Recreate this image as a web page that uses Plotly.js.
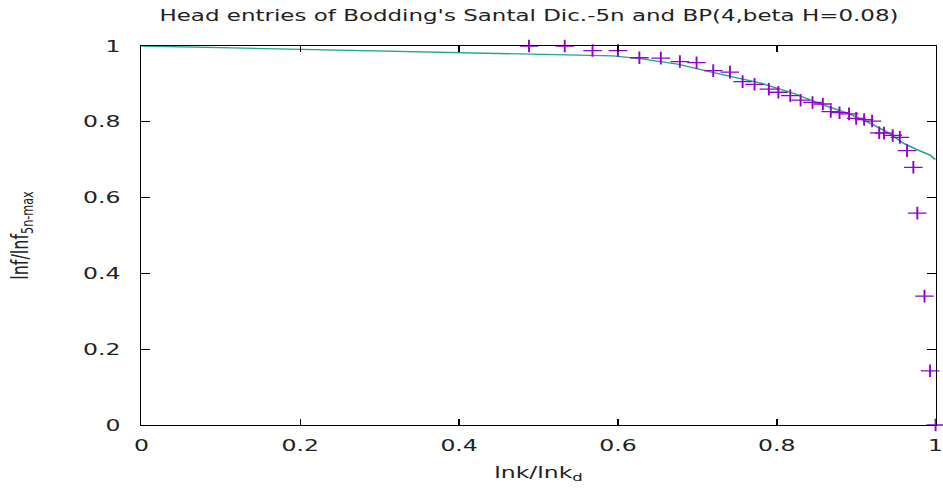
<!DOCTYPE html>
<html>
<head>
<meta charset="utf-8">
<script src="https://cdn.plot.ly/plotly-3.0.1.min.js"></script>
<style>
  html, body { margin: 0; padding: 0; background: #fff; overflow: hidden; }
  /* the reference is a 640 px wide gnuplot picture stretched to 943 px */
  #chart1 { width: 640px; height: 491px; transform: scaleX(1.4734); transform-origin: 0 0; }
</style>
</head>
<body>
<div id="chart1"></div>
<script>
// observed head entries (points)
var dataX = [0.488, 0.533, 0.568, 0.600, 0.627, 0.654, 0.678, 0.699, 0.720, 0.741,
             0.757, 0.772, 0.790, 0.802, 0.817, 0.830, 0.845, 0.858, 0.868, 0.879,
             0.891, 0.900, 0.910, 0.920, 0.929, 0.935, 0.946, 0.955, 0.964, 0.972,
             0.977, 0.986, 0.993, 1.000];
var dataY = [1.000, 1.000, 0.988, 0.988, 0.969, 0.968, 0.959, 0.956, 0.935, 0.931,
             0.906, 0.899, 0.886, 0.878, 0.869, 0.857, 0.851, 0.847, 0.827, 0.824,
             0.821, 0.809, 0.806, 0.802, 0.771, 0.770, 0.764, 0.759, 0.724, 0.680,
             0.559, 0.340, 0.143, 0.000];

// BP(4, beta H=0.08) model curve
var modelX = [0.000, 0.200, 0.414, 0.594, 0.630, 0.675, 0.730, 0.780, 0.820, 0.859,
              0.890, 0.918, 0.940, 0.960, 0.975, 0.985, 0.993, 1.000];
var modelY = [1.000, 0.991, 0.981, 0.974, 0.966, 0.952, 0.925, 0.902, 0.876, 0.844,
              0.822, 0.796, 0.772, 0.743, 0.728, 0.719, 0.712, 0.700];

var xTicks = [0, 0.2, 0.4, 0.6, 0.8, 1];
var yTicks = [0, 0.2, 0.4, 0.6, 0.8, 1];
var tickText = ["0", "0.2", "0.4", "0.6", "0.8", "1"];

var chartData = [{
    x: modelX,
    y: modelY,
    mode: "lines",
    line: {color: "#1fa98a", width: 1.4},
    hoverinfo: "skip",
    cliponaxis: false
}, {
    x: dataX,
    y: dataY,
    mode: "markers",
    marker: {
        symbol: "cross-thin",
        size: 9,
        color: "#9400d3",
        line: {color: "#9400d3", width: 1.3}
    },
    cliponaxis: false
}];

var axisStyle = {
    showgrid: false,
    zeroline: false,
    showline: true,
    linecolor: "#000",
    linewidth: 1,
    mirror: "allticks",
    ticks: "inside",
    ticklen: 6,
    tickcolor: "#000",
    ticklabeloverflow: "allow",
    tickfont: {family: "DejaVu Sans", size: 16, color: "#222"}
};
var titleFont = {family: "DejaVu Sans", size: 16, color: "#222"};

var chartLayout = {
    width: 640,
    height: 491,
    margin: {l: 95.7, r: 5.4, t: 46, b: 66},
    paper_bgcolor: "#fff",
    plot_bgcolor: "#fff",
    showlegend: false,
    font: {family: "DejaVu Sans", color: "#222"},
    title: {
        text: "Head entries of Bodding's Santal Dic.-5n and BP(4,beta H=0.08)",
        font: {family: "DejaVu Sans", size: 15.6, color: "#222"},
        x: 0.561, xanchor: "center",
        y: 0.969, yanchor: "middle"
    },
    xaxis: Object.assign({}, axisStyle, {
        range: [0, 1],
        tickvals: xTicks,
        ticktext: tickText,
        ticklabelstandoff: 6,
        title: {text: "lnk/lnk<sub>d</sub>", font: titleFont, standoff: 12}
    }),
    yaxis: Object.assign({}, axisStyle, {
        range: [0, 1],
        tickvals: yTicks,
        ticktext: tickText,
        ticklabelstandoff: 10,
        title: {text: "lnf/lnf<sub>5n-max</sub>", font: titleFont, standoff: 32}
    })
};

var chartConfig = {displayModeBar: false, staticPlot: true};

Plotly.newPlot("chart1", chartData, chartLayout, chartConfig);
</script>
</body>
</html>
